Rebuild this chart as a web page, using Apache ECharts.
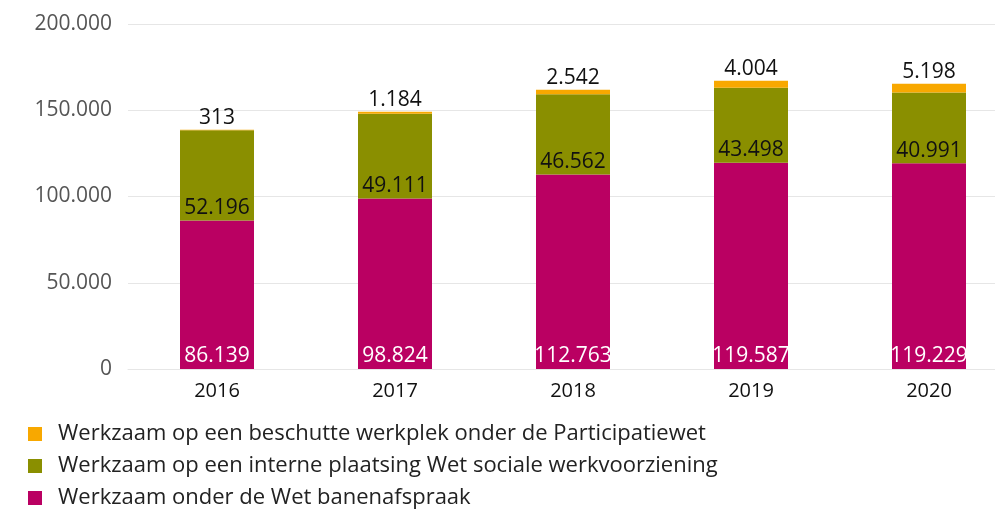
<!DOCTYPE html>
<html><head><meta charset="utf-8">
<script src="https://cdn.jsdelivr.net/npm/echarts@6/dist/echarts.min.js"></script>
<style>html,body{margin:0;padding:0;background:#fff}#c{width:995px;height:509px}</style>
</head><body><div id="c"></div>
<script>
const categories = ['2016','2017','2018','2019','2020'];
const banenafspraak = [86139, 98824, 112763, 119587, 119229];
const wsw = [52196, 49111, 46562, 43498, 40991];
const beschut = [313, 1184, 2542, 4004, 5198];
const seriesNames = [
  'Werkzaam onder de Wet banenafspraak',
  'Werkzaam op een interne plaatsing Wet sociale werkvoorziening',
  'Werkzaam op een beschutte werkplek onder de Participatiewet'
];
const yTicks = [0, 50000, 100000, 150000, 200000];

const fmt = v => String(v).replace(/\B(?=(\d{3})+(?!\d))/g, '.');
const FONT = 'Open Sans';
const legendOrder = [2, 1, 0];
const legendTops = [423, 455, 487];
const legends = legendOrder.map((si, i) => ({
  orient: 'vertical', left: 28, top: legendTops[i], padding: 0,
  itemWidth: 14, itemHeight: 14, icon: 'rect', selectedMode: false,
  data: [seriesNames[si]],
  textStyle: {fontFamily: FONT, fontSize: 22, color: '#222', padding: [0,0,0,11]}
}));
const chart = echarts.init(document.getElementById('c'));
chart.setOption({
  animation: false,
  textStyle: {fontFamily: FONT},
  grid: {left: 128, width: 890, top: 24, height: 345, outerBoundsMode: 'none', containLabel: false},
  legend: legends,
  xAxis: {
    type: 'category', data: categories,
    axisLine: {lineStyle: {color: '#e6e6e6'}}, axisTick: {show: false},
    axisLabel: {fontSize: 20, color: '#111', margin: 12}
  },
  yAxis: {
    type: 'value', min: yTicks[0], max: yTicks[yTicks.length-1], interval: 50000,
    axisLine: {show: false}, axisTick: {show: false},
    splitLine: {lineStyle: {color: '#e6e6e6'}},
    axisLabel: {fontSize: 21, color: '#555', margin: 16, formatter: v => fmt(v)}
  },
  series: [
    {name: seriesNames[0], type: 'bar', stack: 't', data: banenafspraak, barWidth: 74,
     itemStyle: {color: '#ba0062'},
     label: {show: true, position: 'insideBottom', distance: 2, color: '#fff', fontSize: 21, formatter: p => fmt(p.value)}},
    {name: seriesNames[1], type: 'bar', stack: 't', data: wsw,
     itemStyle: {color: '#8a8f00'},
     label: {show: true, position: 'insideBottom', distance: 2, color: '#111', fontSize: 21, formatter: p => fmt(p.value)}},
    {name: seriesNames[2], type: 'bar', stack: 't', data: beschut,
     itemStyle: {color: '#f8a800'},
     label: {show: true, position: 'top', distance: 1, color: '#111', fontSize: 21, formatter: p => fmt(p.value)}}
  ]
});
</script></body></html>
